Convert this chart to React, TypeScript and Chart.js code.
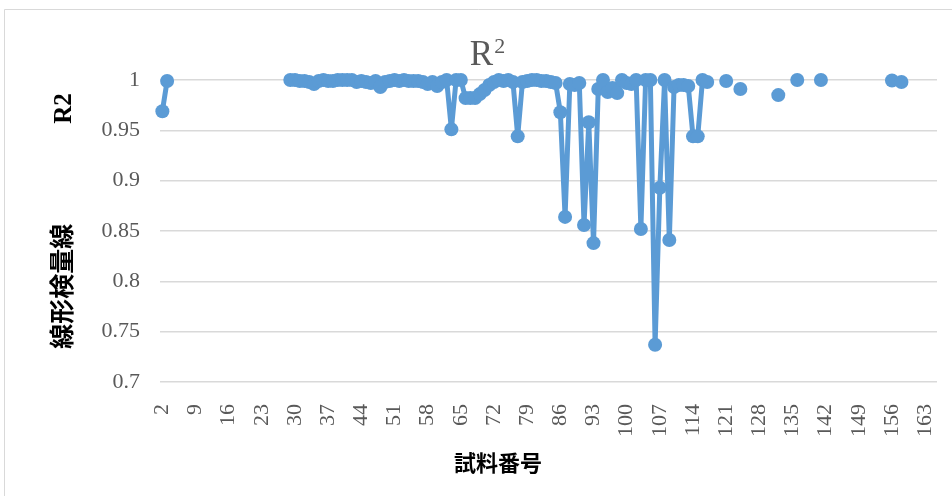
import { useEffect, useRef } from "react";
import { Chart, registerables } from "chart.js";

Chart.register(...registerables);

// Sample numbers on the category axis
const firstSample = 2;
const lastSample = 165;
const sampleNumbers: number[] = [];
for (let n = firstSample; n <= lastSample; n++) sampleNumbers.push(n);

// Samples that have a calibration curve, and the R² of each curve
const measuredSamples = [
  2, 3,
  29, 30, 31, 32, 33, 34, 35, 36, 37, 38, 39, 40, 41, 42, 43, 44, 45, 46, 47, 48,
  49, 50, 51, 52, 53, 54, 55, 56, 57, 58, 59, 60, 61, 62, 63, 64, 65, 66, 67, 68,
  69, 70, 71, 72, 73, 74, 75, 76, 77, 78, 79, 80, 81, 82, 83, 84, 85, 86, 87, 88,
  89, 90, 91, 92, 93, 94, 95, 96, 97, 98, 99, 100, 101, 102, 103, 104, 105, 106,
  107, 108, 109, 110, 111, 112, 113, 114, 115, 116, 117,
  121, 124, 132, 136, 141, 156, 158,
];
const r2Values = [
  0.969, 0.999,
  1.0, 1.0, 0.999, 0.999, 0.998, 0.996, 0.999, 1.0, 0.999, 0.999, 1.0, 1.0, 1.0, 1.0, 0.998, 0.999, 0.998, 0.997, 0.999, 0.993,
  0.998, 0.999, 1.0, 0.999, 1.0, 0.999, 0.999, 0.999, 0.998, 0.996, 0.998, 0.994, 0.998, 1.0, 0.951, 1.0, 1.0, 0.982, 0.982, 0.982,
  0.986, 0.99, 0.995, 0.998, 1.0, 0.999, 1.0, 0.998, 0.944, 0.998, 0.999, 1.0, 1.0, 0.999, 0.999, 0.998, 0.997, 0.968, 0.864, 0.996,
  0.995, 0.997, 0.856, 0.958, 0.838, 0.991, 1.0, 0.988, 0.992, 0.987, 1.0, 0.997, 0.996, 1.0, 0.852, 1.0, 1.0, 0.737,
  0.893, 1.0, 0.841, 0.993, 0.995, 0.995, 0.994, 0.944, 0.944, 1.0, 0.998,
  0.999, 0.991, 0.985, 1.0, 1.0, 0.9995, 0.998,
];

// Axis settings and captions
const yMin = 0.7;
const yMax = 1;
const yStep = 0.05;
const xLabelEvery = 7;
const titleBase = "R";
const titleSup = "2";
const xTitle = "試料番号";
const yTitle = "線形検量線　　　　R2";

const lineColor = "#5B9BD5";
const gridColor = "#D9D9D9";
const labelColor = "#595959";
const serif = '"Liberation Serif", "Noto Sans CJK JP", serif';

// White background, the outer frame and the titles
const captions = {
  id: "captions",
  beforeDraw(chart: Chart) {
    const { ctx, width, height } = chart;
    ctx.save();
    ctx.fillStyle = "#fff";
    ctx.fillRect(0, 0, width, height);
    ctx.strokeStyle = gridColor;
    ctx.lineWidth = 1;
    ctx.beginPath();
    ctx.moveTo(4.5, height);
    ctx.lineTo(4.5, 9.5);
    ctx.lineTo(width, 9.5);
    ctx.stroke();
    ctx.restore();
  },
  afterDraw(chart: Chart) {
    const { ctx, chartArea } = chart;
    const centerX = 495;
    ctx.save();

    // chart title R²
    ctx.fillStyle = labelColor;
    ctx.textBaseline = "alphabetic";
    ctx.textAlign = "left";
    ctx.font = `35px ${serif}`;
    const wBase = ctx.measureText(titleBase).width;
    ctx.font = `22px ${serif}`;
    const wSup = ctx.measureText(titleSup).width;
    const startX = 487 - (wBase + wSup) / 2;
    ctx.font = `35px ${serif}`;
    ctx.fillText(titleBase, startX, 65);
    ctx.font = `22px ${serif}`;
    ctx.fillText(titleSup, startX + wBase + 1, 53);

    // x axis title
    ctx.fillStyle = "#000";
    ctx.textAlign = "center";
    ctx.textBaseline = "middle";
    ctx.font = `bold 22px ${serif}`;
    ctx.fillText(xTitle, centerX + 3, 465);

    // y axis title
    ctx.translate(65, (chartArea.top + chartArea.bottom) / 2 - 10);
    ctx.rotate(-Math.PI / 2);
    ctx.font = `bold 25px ${serif}`;
    ctx.fillText(yTitle, 0, 0);
    ctx.restore();
  },
};

export default function App() {
  const canvasRef = useRef<HTMLCanvasElement | null>(null);

  useEffect(() => {
    const canvas = canvasRef.current;
    if (!canvas) return;

    const series = sampleNumbers.map((n) => {
      const i = measuredSamples.indexOf(n);
      return i >= 0 ? r2Values[i] : null;
    });

    const chart = new Chart(canvas, {
      type: "line",
      data: {
        labels: sampleNumbers.map(String),
        datasets: [
          {
            data: series,
            borderColor: lineColor,
            backgroundColor: lineColor,
            borderWidth: 5,
            borderJoinStyle: "round",
            borderCapStyle: "round",
            pointRadius: 7,
            pointBorderWidth: 0,
            pointBackgroundColor: lineColor,
            spanGaps: false,
            tension: 0,
            clip: false as any,
          },
        ],
      },
      plugins: [captions],
      options: {
        animation: false,
        responsive: false,
        maintainAspectRatio: false,
        devicePixelRatio: 1,
        layout: { padding: { left: 80, right: 15, top: 80, bottom: 54 } },
        plugins: {
          legend: { display: false },
          title: { display: false },
          tooltip: { enabled: false },
        },
        scales: {
          x: {
            type: "category",
            offset: true,
            grid: { display: false },
            border: { display: false },
            ticks: {
              autoSkip: false,
              minRotation: 90,
              maxRotation: 90,
              padding: 14,
              color: labelColor,
              font: { family: serif, size: 22 },
              callback(value: any, index: number) {
                return index % xLabelEvery === 0 ? (this as any).getLabelForValue(value) : "";
              },
            },
            afterFit(scale: any) {
              scale.height = 60;
              scale.paddingLeft = 0;
              scale.paddingRight = 0;
            },
          },
          y: {
            min: yMin,
            max: yMax,
            grid: { color: gridColor, lineWidth: 1.5, drawTicks: false },
            border: { display: false },
            ticks: {
              stepSize: yStep,
              padding: 20,
              color: labelColor,
              font: { family: serif, size: 22 },
              callback: (v: any) => String(Number(Number(v).toFixed(2))),
            },
            afterFit(scale: any) {
              scale.width = 80;
            },
          },
        },
      },
    });

    return () => chart.destroy();
  }, []);

  return (
    <div style={{ position: "fixed", left: 0, top: 0, width: 952, height: 496 }}>
      <canvas ref={canvasRef} width={952} height={496} style={{ display: "block" }} />
    </div>
  );
}
